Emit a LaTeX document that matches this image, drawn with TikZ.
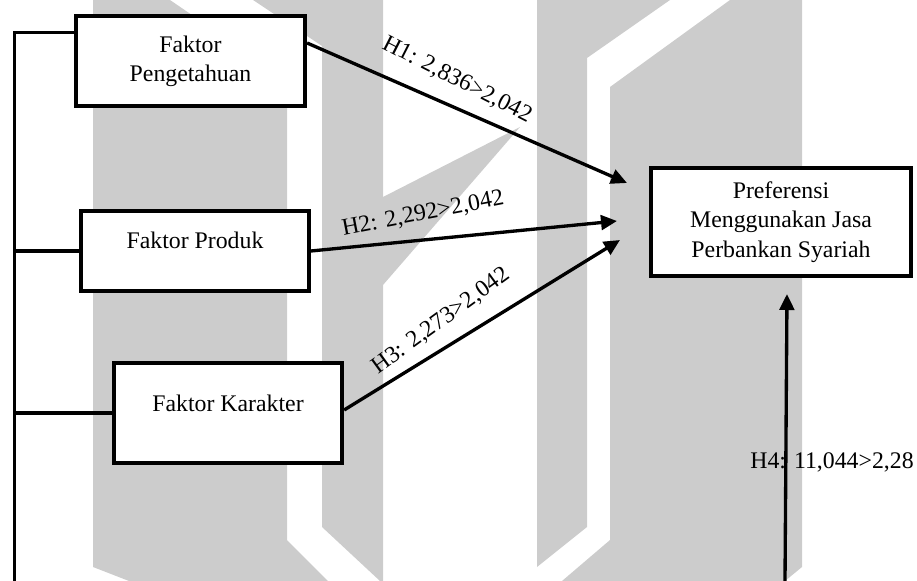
\documentclass[tikz,border=0pt]{standalone}
\usepackage{fontspec}
\setmainfont{Liberation Serif}
\usetikzlibrary{arrows.meta}
\definecolor{wm}{HTML}{CCCCCC}
\begin{document}
\begin{tikzpicture}[x=0.75pt,y=-0.75pt,
  every node/.style={font=\fontsize{17.85pt}{22pt}\selectfont},
  box/.style={draw, line width=3.2pt, fill=white, align=center, inner sep=0pt},
  conn/.style={line width=2.5pt, line join=miter},
  arr/.style={line width=2.5pt, -{Triangle[length=12pt,width=11pt]}},
  lab/.style={inner sep=0pt}]
\useasboundingbox (0,0) rectangle (917,581);
% watermark
\fill[wm] (93,0) -- (170,0) -- (287,80) -- (287,540) -- (328,581) -- (129,581) -- (93,567) -- cycle;
\fill[wm] (253,0) -- (383,0) -- (383,581) -- (380,581) -- (322,527) -- (322,46) -- cycle;
\fill[wm] (383,197) -- (520,127) -- (383,285) -- cycle;
\fill[wm] (537,0) -- (670,0) -- (587,58) -- (587,527) -- (537,567) -- cycle;
\fill[wm] (610,87) -- (730,0) -- (802,0) -- (802,567) -- (785,581) -- (562,581) -- (610,540) -- cycle;
% coordinates
\coordinate (lbot) at (14.5,581);
\coordinate (y1) at (0,32.5);
\coordinate (y2) at (0,43);
\coordinate (y3) at (0,410);
\coordinate (t1) at (627,183);
\coordinate (t2) at (617,221);
\coordinate (t3) at (620,240);
\coordinate (t4) at (787,294);
\coordinate (b4) at (785,581);
% nodes
\node[box, minimum width=171.75pt, minimum height=67.5pt] (pk) at (190.5,61) {Faktor\\Pengetahuan};
\node[box, minimum width=170.7pt, minimum height=60pt, text height=12.2pt, text depth=16.7pt] (fp) at (195,251) {Faktor Produk};
\node[box, minimum width=171pt, minimum height=75pt, text height=12.2pt, text depth=15.2pt] (fk) at (228,413) {Faktor Karakter};
\node[box, minimum width=195pt, minimum height=81pt, font=\fontsize{17.85pt}{22.3pt}\selectfont] (pr) at (781,222) {Preferensi\\Menggunakan Jasa\\Perbankan Syariah};
% bracket
\draw[conn] (pk.west |- y1) -- (lbot |- y1) -- (lbot);
\draw[conn] (fp.west) -- (fp.west -| lbot);
\draw[conn] (fk.west) -- (fk.west -| lbot);
% labels
\node[lab, rotate=-27] (l1) at (457,80) {H1: 2,836>2,042};
\node[lab, rotate=11] (l2) at (423,214) {H2: 2,292>2,042};
\node[lab, rotate=36] (l3) at (441,321) {H3: 2,273>2,042};
\node[lab] (l4) at (832,462.6) {H4: 11,044>2,28};
% arrows
\draw[arr] (pk.east |- y2) -- (t1);
\draw[arr] (fp.east) -- (t2);
\draw[arr] (fk.east |- y3) -- (t3);
\draw[arr] (b4) -- (t4);
\end{tikzpicture}
\end{document}
